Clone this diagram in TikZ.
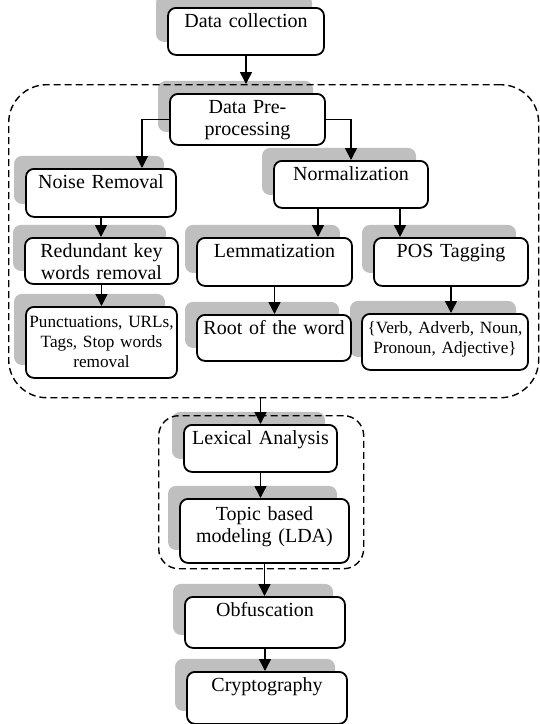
\documentclass[tikz,border=0pt]{standalone}
\usepackage{fontspec}
\setmainfont{Liberation Serif}
\usetikzlibrary{positioning,arrows.meta}

\definecolor{shadowgray}{RGB}{191,191,191}

\begin{document}
\begin{tikzpicture}[x=0.5pt, y=-0.5pt, >={Triangle[length=6pt,width=6pt]},
  every box/.style={draw, line width=0.9pt, rounded corners=4pt, fill=white,
    align=center, anchor=north, inner xsep=0pt, inner ysep=3pt, text height=7pt,
    font=\fontsize{10}{11}\selectfont,
    preaction={draw=none, fill=shadowgray, transform canvas={xshift=-6pt, yshift=6.5pt}}},
  small text/.style={font=\fontsize{8.6}{10}\selectfont},
  group/.style={draw, dash pattern=on 3.5pt off 2pt, line width=0.7pt,
    anchor=north west, inner sep=0pt},
  flow/.style={->, line width=0.75pt}]

\useasboundingbox (0,0) rectangle (540,724);

% data collection
\node [every box, text width=78pt, text depth=10.5pt] (collect) at (246,7) {Data collection};

% pre-processing steps
\node [every box, text width=77.5pt, text depth=12.5pt] (prep) at (247.5,93) {Data Pre-\\processing};
\node [every box, text width=75pt, text depth=11pt] (noise) at (101,168) {Noise Removal};
\node [every box, text width=77pt, text depth=10.5pt] (norm) at (351,160) {Normalization};
\node [every box, text width=76.5pt, text depth=10pt] (redund) at (101.5,237) {Redundant key\\words removal};
\node [every box, text width=77.5pt, text depth=11pt] (lemma) at (274.5,237) {Lemmatization};
\node [every box, text width=77pt, text depth=11pt] (pos) at (451,237) {POS Tagging};
\node [every box, small text, text width=75.5pt, text height=7.5pt, text depth=22pt] (punct) at (101.5,306) {Punctuations, URLs,\\Tags, Stop words\\removal};
\node [every box, small text, text width=83pt, text depth=15pt] (tags) at (445,313) {\{Verb, Adverb, Noun,\\Pronoun, Adjective\}};
\node [every box, text width=77pt, text depth=10pt] (root) at (274,314) {Root of the word};

% analysis and output
\node [every box, text width=76.5pt, text depth=10.5pt] (lex) at (260.5,424) {Lexical Analysis};
\node [every box, text width=84.5pt, text height=8pt, text depth=18pt] (topic) at (264.5,498) {Topic based\\modeling (LDA)};
\node [every box, text width=80pt, text depth=12.5pt] (obf) at (265,596) {Obfuscation};
\node [every box, text width=80pt, text depth=13pt] (crypt) at (267,671) {Cryptography};

% dashed groups
\node [group, rounded corners=19pt, minimum width=265pt, minimum height=156.5pt] (prepgroup) at (8,84) {};
\node [group, rounded corners=10pt, minimum width=102.5pt, minimum height=76.5pt] (lexgroup) at (158,415) {};

% arrow entry points
\coordinate (noise-in) at ([xshift=20.5pt]noise.north);
\coordinate (lemma-in) at ([xshift=-16.5pt]norm.south);
\coordinate (pos-in) at ([xshift=24.5pt]norm.south);

% arrows
\draw [flow] (collect.south) -- (collect.south |- prepgroup.north);
\draw [flow] (prep.west) -| (noise-in);
\draw [flow] (prep.east) -| (norm.north);
\draw [flow] (noise.south) -- (noise.south |- redund.north);
\draw [flow] (redund.south) -- (redund.south |- punct.north);
\draw [flow] (lemma-in) -- (lemma-in |- lemma.north);
\draw [flow] (pos-in) -- (pos-in |- pos.north);
\draw [flow] (lemma.south) -- (lemma.south |- root.north);
\draw [flow] (pos.south) -- (pos.south |- tags.north);
\draw [flow] (lex.north |- prepgroup.south) -- (lex.north);
\draw [flow] (lex.south) -- (lex.south |- topic.north);
\draw [flow] (topic.south) -- (topic.south |- obf.north);
\draw [flow] (obf.south) -- (obf.south |- crypt.north);

\end{tikzpicture}
\end{document}
